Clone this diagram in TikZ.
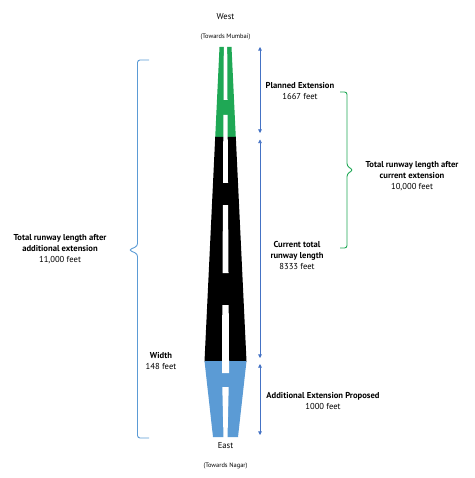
\documentclass[tikz,border=0pt]{standalone}
\usepackage{fontspec}
\setmainfont{PT Sans}
\usetikzlibrary{arrows.meta}
\definecolor{rwgreen}{HTML}{1FA855}
\definecolor{rwblue}{HTML}{5B9BD5}
\definecolor{arblue}{HTML}{4472C4}
\begin{document}
\begin{tikzpicture}[x=1pt,y=-1pt,
  lbl/.style={align=center,font=\fontsize{8.6}{11}\selectfont,inner sep=0pt},
  sml/.style={align=center,font=\fontsize{6.4}{8}\selectfont,inner sep=0pt},
  dimarrow/.style={draw=arblue,line width=0.7pt,{Triangle[width=3.6pt,length=3.6pt]}-{Triangle[width=3.6pt,length=3.6pt]}},
  brace/.style={line width=0.9pt,rounded corners=2.5pt}]
\useasboundingbox (0,0) rectangle (474,478);
% runway
\fill[rwgreen] (219.5,47) -- (231.5,47) -- (235.8,137.5) -- (215.2,137.5) -- cycle;
\fill[black] (215.2,137) -- (235.8,137) -- (246.5,361.5) -- (204.5,361.5) -- cycle;
\fill[rwblue] (204.5,361) -- (246.5,361) -- (238,437) -- (213,437) -- cycle;
% centre dashes
\fill[white] (223.8,46) -- (227.2,46) -- (227.5,100) -- (223.5,100) -- cycle;
\fill[white] (223.4,115) -- (227.6,115) -- (228,183) -- (223,183) -- cycle;
\fill[white] (222.9,205) -- (228.1,205) -- (228.5,273) -- (222.5,273) -- cycle;
\fill[white] (222.3,305) -- (228.7,305) -- (229,361) -- (229,373) -- (222,373) -- (222,361) -- cycle;
\fill[white] (222.3,387) -- (228.7,387) -- (227.5,438) -- (223.5,438) -- cycle;
% dimension arrows
\coordinate (a1) at (260,47);
\coordinate (a2) at (260,133);
\coordinate (b1) at (260,139.5);
\coordinate (b2) at (260,358);
\coordinate (c1) at (260,364);
\coordinate (c2) at (260,435);
\draw[dimarrow] (a1) -- (a2);
\draw[dimarrow] (b1) -- (b2);
\draw[dimarrow] (c1) -- (c2);
% braces
\draw[brace,draw=rwblue] (149,60) -- (137.5,60) -- (137.5,246) -- (129,250) -- (137.5,254) -- (137.5,438) -- (149,438);
\draw[brace,draw=rwgreen] (340,92) -- (347,92) -- (347,166) -- (353,170) -- (347,174) -- (347,248) -- (340,248);
% texts
\node[lbl] (west) at (225.5,17) {West};
\node[sml] (mumbai) at (225.5,37) {(Towards Mumbai)};
\node[lbl] (east) at (225.5,446) {East};
\node[sml] (nagar) at (225.5,466) {(Towards Nagar)};
\node[lbl] (planned) at (300,90.5) {\textbf{Planned Extension}\\1667 feet};
\node[lbl] (current) at (297,255) {\textbf{Current total}\\\textbf{runway length}\\8333 feet};
\node[lbl] (addl) at (323,400.5) {\textbf{Additional Extension Proposed}\\1000 feet};
\node[lbl] (tot10) at (412,176) {\textbf{Total runway length after}\\\textbf{current extension}\\10,000 feet};
\node[lbl] (tot11) at (60,249.5) {\textbf{Total runway length after}\\\textbf{additional extension}\\11,000 feet};
\node[lbl] (width) at (161,360.5) {\textbf{Width}\\148 feet};
\end{tikzpicture}
\end{document}
